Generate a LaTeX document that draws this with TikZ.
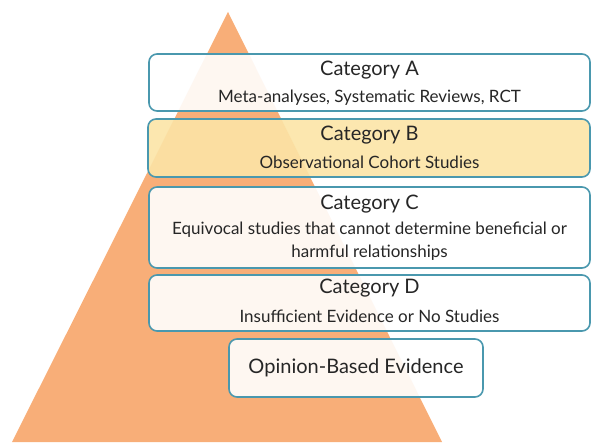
\documentclass[tikz,border=0pt]{standalone}
\usepackage{fontspec}
\setmainfont{Lato}
\usetikzlibrary{math}

\definecolor{pyramid}{HTML}{F8AE78}
\definecolor{edge}{HTML}{4A98AE}
\definecolor{catbfill}{HTML}{FCE4A6}

\tikzset{
  catbox/.style={draw=edge, line width=1.6pt, rounded corners=8pt,
    fill=white, fill opacity=0.9, text opacity=1, align=center,
    inner sep=0pt},
  cattitle/.style={font=\fontsize{20}{23}\selectfont, text=black!85},
  catsub/.style={font=\fontsize{17}{23}\selectfont, text=black!85, align=center}
}

\begin{document}
\begin{tikzpicture}[x=1pt, y=1pt]
  \tikzmath{\w = 441;}

  \useasboundingbox (0, 0) rectangle (594, 442);

  % pyramid
  \fill[pyramid] (12, 0) -- (228, 430) -- (442, 0) -- cycle;

  % category A
  \node[catbox, minimum width=\w, minimum height=57] (catA) at (369.5, 359.5) {};
  \node[cattitle] (catAtitle) at (369.5, 372) {Category A};
  \node[catsub] (catAsub) at (369.5, 344) {Meta-analyses, Systematic Reviews, RCT};

  % category B
  \node[catbox, fill=catbfill, minimum width=\w+1, minimum height=58] (catB) at (369, 294) {};
  \node[cattitle] (catBtitle) at (369.5, 307) {Category B};
  \node[catsub] (catBsub) at (369.5, 280) {Observational Cohort Studies};

  % category C
  \node[catbox, minimum width=\w, minimum height=81] (catC) at (369.5, 214.5) {};
  \node[cattitle] (catCtitle) at (369.5, 238) {Category C};
  \node[catsub] (catCsub) at (369.5, 201) {Equivocal studies that cannot determine beneficial or\\harmful relationships};

  % category D
  \node[catbox, minimum width=\w, minimum height=56] (catD) at (369.5, 139) {};
  \node[cattitle] (catDtitle) at (369.5, 154) {Category D};
  \node[catsub] (catDsub) at (369.5, 126) {Insufficient Evidence or No Studies};

  % opinion
  \node[catbox, minimum width=254, minimum height=58] (opinion) at (356, 74) {};
  \node[cattitle] (opiniontitle) at (356, 74) {Opinion-Based Evidence};

\end{tikzpicture}
\end{document}
